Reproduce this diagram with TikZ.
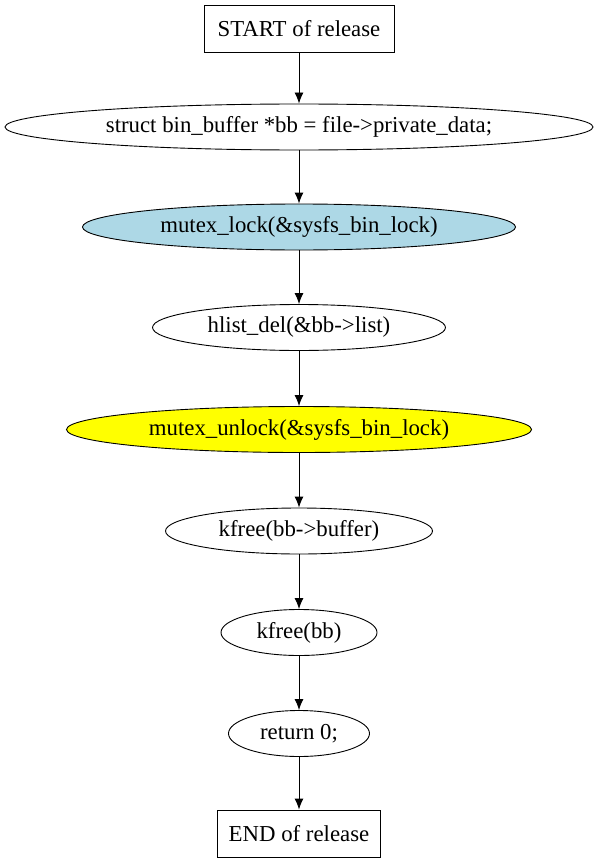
\documentclass[tikz,border=0pt]{standalone}
\usepackage{fontspec}
\setmainfont{Liberation Serif}
\usetikzlibrary{arrows.meta, shapes.geometric}
\definecolor{lockblue}{HTML}{ADD8E6}
\definecolor{unlockyellow}{HTML}{FFFF00}
\tikzset{
  >=Latex,
  font=\fontsize{22.8}{24}\selectfont,
  termbox/.style={
    draw, line width=0.9pt, inner sep=0pt,
    minimum height=47pt, minimum width=#1
  },
  stmt/.style={
    ellipse, draw, line width=0.9pt, inner sep=0pt,
    minimum height=46pt, minimum width=#1
  },
  flow/.style={-{Latex[length=11pt,width=9pt]}, line width=0.9pt}
}

\begin{document}
\begin{tikzpicture}[x=1pt,y=-1pt]
  \useasboundingbox (0,0) rectangle (597,864);
  % nodes, top to bottom
  \node[termbox=190pt] (start) at (299,28.5) {START of release};
  \node[stmt=588pt] (getbb) at (299,127) {struct bin\_buffer *bb = file->private\_data;};
  \node[stmt=433pt, fill=lockblue] (lock) at (299,227) {mutex\_lock(\&sysfs\_bin\_lock)};
  \node[stmt=293pt] (del) at (299,327.5) {hlist\_del(\&bb->list)};
  \node[stmt=465pt, fill=unlockyellow] (unlock) at (299,429.5) {mutex\_unlock(\&sysfs\_bin\_lock)};
  \node[stmt=267pt] (freebuf) at (299,531) {kfree(bb->buffer)};
  \node[stmt=156pt] (freebb) at (299,632.5) {kfree(bb)};
  \node[stmt=141pt] (ret) at (299,733.5) {return 0;};
  \node[termbox=163pt] (end) at (299,833.5) {END of release};
  % connectors
  \draw[flow] (start) -- (getbb);
  \draw[flow] (getbb) -- (lock);
  \draw[flow] (lock) -- (del);
  \draw[flow] (del) -- (unlock);
  \draw[flow] (unlock) -- (freebuf);
  \draw[flow] (freebuf) -- (freebb);
  \draw[flow] (freebb) -- (ret);
  \draw[flow] (ret) -- (end);
\end{tikzpicture}
\end{document}
